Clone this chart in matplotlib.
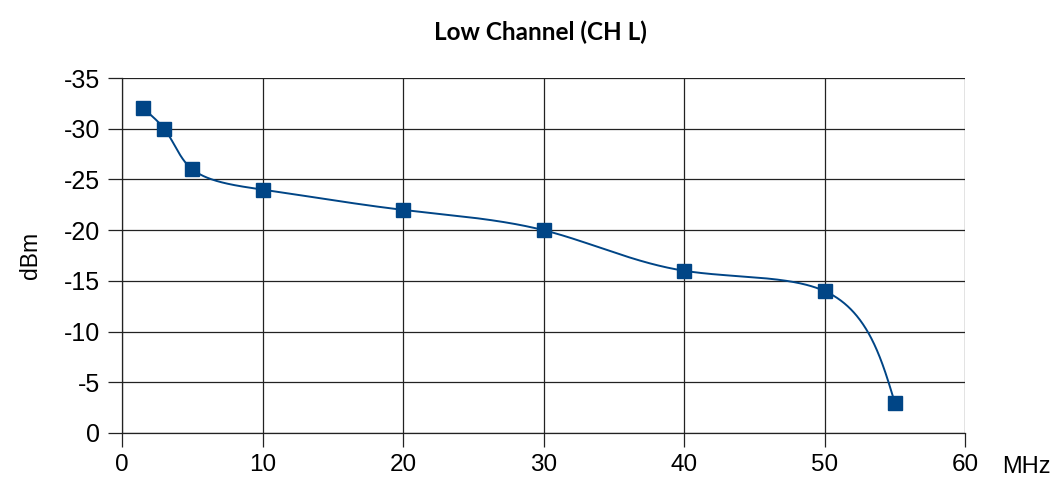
import numpy as np
import matplotlib
matplotlib.use("Agg")
import matplotlib.pyplot as plt

plt.rcParams["axes.unicode_minus"] = False

freq_mhz = [1.5, 3, 5, 10, 20, 30, 40, 50, 55]
level_dbm = [-32, -30, -26, -24, -22, -20, -16, -14, -3]
x_ticks = [0, 10, 20, 30, 40, 50, 60]
y_ticks = [0, -5, -10, -15, -20, -25, -30, -35]
title = "Low Channel (CH L)"
x_unit = "MHz"
y_label = "dBm"


def natural_spline_1d(t, y, ts):
    t = np.asarray(t, float)
    y = np.asarray(y, float)
    k = len(t)
    h = np.diff(t)
    A = np.zeros((k, k))
    b = np.zeros(k)
    A[0, 0] = 1
    A[-1, -1] = 1
    for i in range(1, k - 1):
        A[i, i - 1] = h[i - 1]
        A[i, i] = 2 * (h[i - 1] + h[i])
        A[i, i + 1] = h[i]
        b[i] = 6 * ((y[i + 1] - y[i]) / h[i] - (y[i] - y[i - 1]) / h[i - 1])
    M = np.linalg.solve(A, b)
    idx = np.clip(np.searchsorted(t, ts) - 1, 0, k - 2)
    t0, t1 = t[idx], t[idx + 1]
    hh = t1 - t0
    a = t1 - ts
    c = ts - t0
    return (M[idx] * a ** 3 / (6 * hh) + M[idx + 1] * c ** 3 / (6 * hh)
            + (y[idx] / hh - M[idx] * hh / 6) * a
            + (y[idx + 1] / hh - M[idx + 1] * hh / 6) * c)


def parametric_spline(x, y, n=800):
    x = np.asarray(x, float)
    y = np.asarray(y, float)
    d = np.hypot(np.diff(x), np.diff(y))
    t = np.concatenate([[0], np.cumsum(d)])
    ts = np.linspace(0, t[-1], n)
    return natural_spline_1d(t, x, ts), natural_spline_1d(t, y, ts)


fig = plt.figure(figsize=(10.54, 4.78), dpi=100)
ax = fig.add_axes([122 / 1054, 45 / 478, 843 / 1054, 355 / 478])

color = "#004586"
xs, ys = parametric_spline(freq_mhz, level_dbm)
ax.plot(xs, ys, color=color, lw=1.4, zorder=3)
ax.plot(freq_mhz, level_dbm, ls="none", marker="s", ms=9.5, color=color, zorder=4)

ax.set_xlim(0, 60)
ax.set_ylim(0, -35)
ax.set_xticks(x_ticks)
ax.set_yticks(y_ticks)
ax.grid(True, color="#222222", lw=0.9)
ax.set_axisbelow(True)
for s in ["top", "right"]:
    ax.spines[s].set_visible(False)
for s in ["left", "bottom"]:
    ax.spines[s].set_color("#222222")
    ax.spines[s].set_linewidth(0.9)
ax.tick_params(axis="both", direction="out", length=10, width=0.9, color="#222222")
ax.tick_params(axis="y", pad=5.5, labelsize=18)
ax.tick_params(axis="x", pad=5, labelsize=17.5)
for lab in ax.get_xticklabels() + ax.get_yticklabels():
    lab.set_fontfamily("Liberation Sans")

ax.set_ylabel(y_label, fontsize=16.5, family="Liberation Sans", labelpad=16)
fig.text(1002 / 1054, 1 - 467 / 478, x_unit, fontsize=17, family="Liberation Sans",
         ha="left", va="center")
fig.text(540 / 1054, 1 - 32 / 478, title, fontsize=17.5, fontweight="bold",
         family="Lato", ha="center", va="center")

fig.savefig("out.png", dpi=100)
